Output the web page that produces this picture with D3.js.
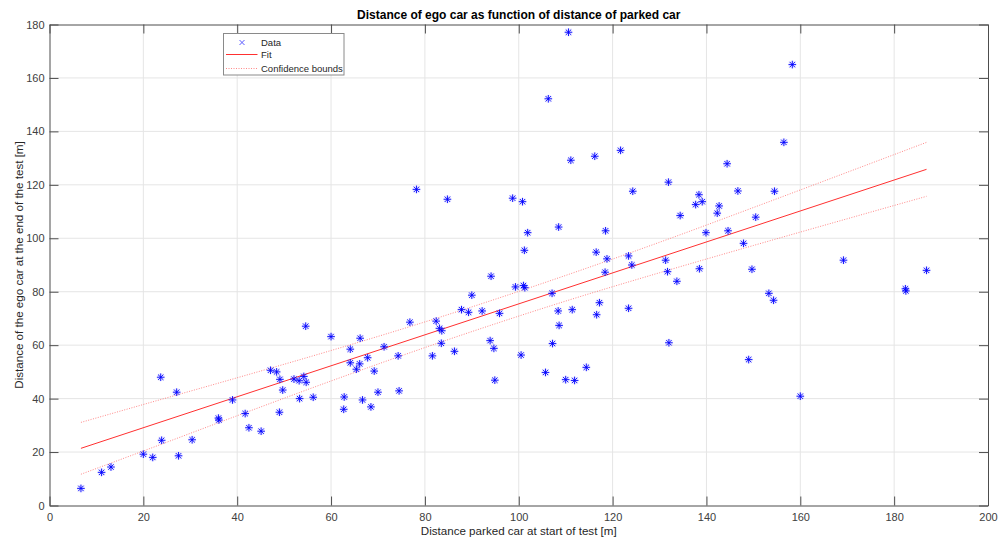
<!DOCTYPE html>
<html>
<head>
<meta charset="utf-8">
<script src="https://cdn.jsdelivr.net/npm/d3@7"></script>
<style>
  body { margin: 0; background: #fff; }
  svg { display: block; font-family: "Liberation Sans", Arial, sans-serif; }
</style>
</head>
<body>
<svg id="chart" width="999" height="540"></svg>
<script>
// distance parked car at start of test [m]
const distParked = [
  6.7, 11.1, 13.1, 20.0, 22.0, 23.7, 23.9, 27.1, 27.5, 30.4,
  36.0, 36.1, 39.0, 41.7, 42.5, 45.1, 47.1, 48.4, 49.1, 49.0,
  49.7, 52.1, 53.2, 53.3, 54.2, 54.7, 56.2, 60.0, 54.6, 66.2,
  76.8, 78.2, 82.4, 83.1, 83.6, 84.8, 87.8, 89.3, 90.0, 92.2,
  94.1, 95.9, 98.7, 99.3, 100.8, 101.0, 101.3, 101.2, 101.9, 107.1,
  108.5, 108.4, 108.6, 111.1, 111.4, 116.2, 116.5, 117.2, 116.6, 118.4,
  118.5, 118.8, 121.7, 123.4, 123.4, 124.1, 124.3, 131.3, 131.7, 131.9,
  110.6, 106.3, 64.1, 64.1, 66.1, 65.4, 67.8, 69.2, 71.3, 74.3,
  62.8, 62.7, 66.7, 68.5, 70.0, 74.5, 81.6, 83.5, 86.3, 93.9,
  94.7, 94.9, 100.5, 105.7, 107.2, 110.0, 111.9, 114.4, 132.0, 158.3,
  156.5, 144.4, 138.4, 146.7, 154.5, 137.7, 139.1, 142.7, 142.3, 134.4,
  150.5, 139.9, 144.6, 147.9, 133.7, 138.5, 149.7, 169.2, 186.9, 182.4,
  182.5, 153.3, 154.3, 149.0, 160.0
];
// distance of the ego car at the end of the test [m]
const distEgo = [
  6.4, 12.4, 14.4, 19.2, 18.0, 48.0, 24.4, 42.4, 18.6, 24.6,
  32.7, 32.0, 39.5, 34.4, 29.1, 27.8, 50.6, 50.0, 47.2, 34.9,
  43.2, 47.3, 46.7, 40.0, 48.3, 46.1, 40.5, 63.2, 67.1, 62.6,
  68.6, 118.3, 69.0, 66.3, 65.4, 114.6, 73.3, 72.3, 78.7, 72.8,
  85.8, 71.9, 115.0, 81.8, 113.7, 82.3, 81.5, 95.5, 102.1, 79.4,
  104.2, 72.8, 67.4, 129.2, 73.3, 130.7, 94.8, 75.9, 71.4, 87.3,
  102.8, 92.3, 132.9, 93.4, 73.8, 90.0, 117.6, 91.8, 87.5, 121.0,
  177.1, 152.2, 58.5, 53.4, 53.0, 51.0, 55.3, 50.3, 59.4, 56.0,
  40.6, 36.0, 39.5, 36.9, 42.4, 42.9, 56.0, 60.7, 57.7, 61.7,
  58.8, 46.9, 56.3, 49.8, 60.6, 47.1, 46.8, 51.7, 60.9, 165.0,
  135.9, 127.9, 116.3, 117.7, 117.6, 112.6, 113.7, 112.1, 109.4, 108.5,
  107.9, 102.1, 102.8, 98.1, 83.9, 88.6, 88.4, 91.8, 88.0, 81.1,
  80.3, 79.4, 76.8, 54.6, 40.9
];

// fitted line end points
const fitX = [6.7, 186.9];
const fitY = [21.4, 125.8];

// confidence bounds
const boundX = [6.7, 20, 40, 60, 80, 95, 110, 130, 150, 170, 186.9];
const boundUpper = [31.1, 37.8, 47.8, 58.0, 68.7, 77.2, 86.1, 98.5, 111.5, 124.7, 135.9];
const boundLower = [11.7, 20.4, 33.6, 46.6, 59.1, 68.0, 76.5, 87.1, 97.3, 107.3, 115.7];

const xTicks = [0, 20, 40, 60, 80, 100, 120, 140, 160, 180, 200];
const yTicks = [0, 20, 40, 60, 80, 100, 120, 140, 160, 180];

const legendLabels = ["Data", "Fit", "Confidence bounds"];

const svg = d3.select("#chart");
const margin = { left: 49.5, right: 11, top: 24.5, bottom: 34.5 };
const W = 999, H = 540;

const x = d3.scaleLinear().domain([0, 200]).range([margin.left, W - margin.right]);
const y = d3.scaleLinear().domain([0, 180]).range([H - margin.bottom, margin.top]);

const tickLen = 9;
const axisColor = "#4d4d4d";

// grid
svg.append("g").selectAll("line")
  .data(xTicks.slice(1, -1))
  .join("line")
  .attr("x1", d => x(d)).attr("x2", d => x(d))
  .attr("y1", y(0)).attr("y2", y(180))
  .attr("stroke", "#e5e5e5").attr("stroke-width", 1);
svg.append("g").selectAll("line")
  .data(yTicks.slice(1, -1))
  .join("line")
  .attr("y1", d => y(d)).attr("y2", d => y(d))
  .attr("x1", x(0)).attr("x2", x(200))
  .attr("stroke", "#e5e5e5").attr("stroke-width", 1);

// axes (ticks inside, box on)
const xAxisB = d3.axisBottom(x).tickValues(xTicks).tickSizeInner(-tickLen).tickSizeOuter(0).tickPadding(8);
const xAxisT = d3.axisTop(x).tickValues(xTicks).tickSizeInner(-tickLen).tickSizeOuter(0).tickFormat("");
const yAxisL = d3.axisLeft(y).tickValues(yTicks).tickSizeInner(-tickLen).tickSizeOuter(0).tickPadding(5);
const yAxisR = d3.axisRight(y).tickValues(yTicks).tickSizeInner(-tickLen).tickSizeOuter(0).tickFormat("");

function styleAxis(g) {
  g.select(".domain").attr("stroke", axisColor);
  g.selectAll(".tick line").attr("stroke", axisColor);
  g.selectAll(".tick text").attr("fill", "#404040").style("font-size", "11px")
    .style("font-family", "'Liberation Sans', Arial, sans-serif");
}

svg.append("g").attr("transform", `translate(0,${y(0)})`).call(xAxisB).call(styleAxis);
svg.append("g").attr("transform", `translate(0,${y(180)})`).call(xAxisT).call(styleAxis);
svg.append("g").attr("transform", `translate(${x(0)},0)`).call(yAxisL).call(styleAxis);
svg.append("g").attr("transform", `translate(${x(200)},0)`).call(yAxisR).call(styleAxis);

// confidence bounds
const bline = d3.line().x(d => x(d[0])).y(d => y(d[1])).curve(d3.curveMonotoneX);
[boundUpper, boundLower].forEach(arr => {
  svg.append("path")
    .attr("d", bline(boundX.map((v, i) => [v, arr[i]])))
    .attr("fill", "none")
    .attr("stroke", "#ff6a6a")
    .attr("stroke-width", 0.8)
    .attr("stroke-dasharray", "1,1.5");
});

// fit
svg.append("line")
  .attr("x1", x(fitX[0])).attr("y1", y(fitY[0]))
  .attr("x2", x(fitX[1])).attr("y2", y(fitY[1]))
  .attr("stroke", "#ff3030").attr("stroke-width", 1);

// data markers (asterisk)
const pts = distParked.map((d, i) => ({ x: d, y: distEgo[i] }));
const m = 3.8, md = 2.7;
const star = `M${-m},0L${m},0M0,${-m}L0,${m}M${-md},${-md}L${md},${md}M${-md},${md}L${md},${-md}`;
const marks = svg.append("g").selectAll("g")
  .data(pts)
  .join("g")
  .attr("transform", d => `translate(${x(d.x)},${y(d.y)})`);
marks.append("circle").attr("r", 4).attr("fill", "rgba(90,90,255,0.12)");
marks.append("path").attr("d", star).attr("stroke", "#0000ff").attr("stroke-width", 0.9).attr("fill", "none");

// legend
const lg = svg.append("g").attr("transform", "translate(223.5,33.5)");
lg.append("rect").attr("width", 120.5).attr("height", 41.5)
  .attr("fill", "#fff").attr("stroke", "#8a8a8a").attr("stroke-width", 1);
const rowY = [9, 21, 35];
lg.append("path")
  .attr("d", "M-2.5,-2.5L2.5,2.5M-2.5,2.5L2.5,-2.5")
  .attr("transform", `translate(18.5,${rowY[0]})`)
  .attr("stroke", "#5a5aff").attr("stroke-width", 1).attr("fill", "none");
lg.append("line").attr("x1", 2.5).attr("x2", 34).attr("y1", rowY[1]).attr("y2", rowY[1])
  .attr("stroke", "#ff3030").attr("stroke-width", 1);
lg.append("line").attr("x1", 2.5).attr("x2", 34).attr("y1", rowY[2]).attr("y2", rowY[2])
  .attr("stroke", "#ff6a6a").attr("stroke-width", 0.8).attr("stroke-dasharray", "1,1.5");
lg.selectAll("text")
  .data(legendLabels)
  .join("text")
  .attr("x", 37.5)
  .attr("y", (d, i) => rowY[i] + 3.5)
  .attr("fill", "#262626")
  .style("font-size", "9.5px")
  .text(d => d);

// title and labels
svg.append("text")
  .attr("x", (x(0) + x(200)) / 2).attr("y", 19)
  .attr("text-anchor", "middle")
  .style("font-size", "12px").style("font-weight", "bold")
  .attr("fill", "#000")
  .text("Distance of ego car as function of distance of parked car");

svg.append("text")
  .attr("x", (x(0) + x(200)) / 2).attr("y", 535)
  .attr("text-anchor", "middle")
  .style("font-size", "11.6px")
  .attr("fill", "#262626")
  .text("Distance parked car at start of test [m]");

svg.append("text")
  .attr("transform", `translate(23,${(y(0) + y(180)) / 2}) rotate(-90)`)
  .attr("text-anchor", "middle")
  .style("font-size", "11.6px")
  .attr("fill", "#262626")
  .text("Distance of the ego car at the end of the test [m]");
</script>
</body>
</html>
